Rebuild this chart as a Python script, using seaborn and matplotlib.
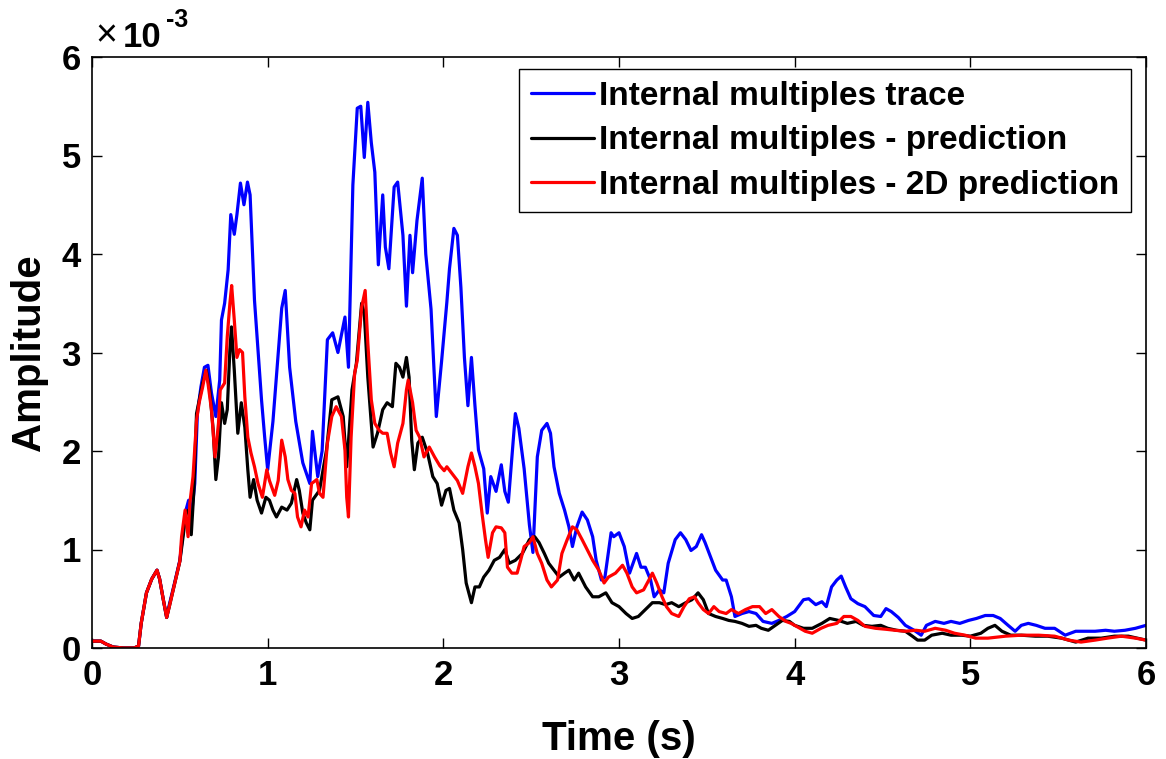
import numpy as np
import pandas as pd
import matplotlib
matplotlib.use("Agg")
import matplotlib.pyplot as plt
import seaborn as sns

# Amplitudes are given in units of 1e-3
trace_t = [0, 0.05, 0.08, 0.12, 0.18, 0.24, 0.265, 0.28, 0.31, 0.34, 0.37, 0.385, 0.405, 0.425, 0.44, 0.47,
           0.5, 0.52, 0.535, 0.55, 0.565, 0.585, 0.60, 0.62, 0.64, 0.66, 0.68, 0.705, 0.727, 0.737, 0.755, 0.775,
           0.79, 0.81, 0.825, 0.845, 0.865, 0.885, 0.90, 0.925, 0.945, 0.965, 0.983, 1.0, 1.03, 1.08, 1.10, 1.125,
           1.16, 1.2, 1.24, 1.255, 1.285, 1.31, 1.34, 1.37, 1.40, 1.44, 1.46, 1.47, 1.485, 1.51, 1.53, 1.55, 1.57,
           1.59, 1.61, 1.63, 1.655, 1.67, 1.69, 1.72, 1.74, 1.77, 1.79, 1.81, 1.825, 1.85, 1.88, 1.90, 1.93, 1.96,
           1.99, 2.02, 2.035, 2.06, 2.08, 2.10, 2.12, 2.14, 2.16, 2.18, 2.20, 2.23, 2.25, 2.27, 2.30, 2.33, 2.35,
           2.37, 2.41, 2.43, 2.46, 2.49, 2.51, 2.535, 2.56, 2.59, 2.61, 2.63, 2.66, 2.69, 2.715, 2.735, 2.76, 2.79,
           2.82, 2.85, 2.87, 2.90, 2.92, 2.955, 2.97, 3.0, 3.03, 3.06, 3.10, 3.125, 3.15, 3.18, 3.20, 3.23, 3.255,
           3.28, 3.32, 3.35, 3.38, 3.41, 3.44, 3.47, 3.49, 3.52, 3.55, 3.59, 3.61, 3.64, 3.66, 3.70, 3.74, 3.78,
           3.82, 3.87, 3.91, 3.955, 4.0, 4.05, 4.08, 4.12, 4.155, 4.18, 4.21, 4.24, 4.265, 4.29, 4.32, 4.36, 4.40,
           4.45, 4.49, 4.52, 4.55, 4.59, 4.63, 4.68, 4.72, 4.75, 4.80, 4.85, 4.89, 4.94, 4.99, 5.035, 5.085, 5.13,
           5.17, 5.215, 5.255, 5.29, 5.33, 5.375, 5.425, 5.48, 5.54, 5.6, 5.65, 5.71, 5.77, 5.82, 5.88, 5.94, 6.0]
trace_amp = [0.07, 0.07, 0.04, 0.01, 0.0, 0.0, 0.02, 0.25, 0.56, 0.70, 0.79, 0.70, 0.50, 0.31, 0.44, 0.66,
             0.89, 1.2, 1.4, 1.5, 1.33, 1.67, 2.38, 2.65, 2.85, 2.87, 2.59, 2.35, 2.72, 3.33, 3.5, 3.84,
             4.4, 4.2, 4.4, 4.72, 4.5, 4.73, 4.6, 3.53, 3.03, 2.52, 2.14, 1.81, 2.3, 3.45, 3.63, 2.85,
             2.3, 1.88, 1.67, 2.2, 1.74, 2.0, 3.13, 3.2, 3.0, 3.36, 2.85, 3.6, 4.7, 5.48, 5.50, 4.98, 5.54,
             5.13, 4.83, 3.89, 4.60, 4.07, 3.85, 4.68, 4.73, 4.19, 3.47, 4.19, 3.81, 4.34, 4.77, 4.0, 3.44, 2.35,
             2.91, 3.51, 3.85, 4.26, 4.19, 3.66, 2.95, 2.46, 2.95, 2.46, 2.01, 1.82, 1.37, 1.74, 1.59, 1.86, 1.59,
             1.48, 2.38, 2.23, 1.82, 1.25, 0.97, 1.94, 2.21, 2.28, 2.18, 1.84, 1.57, 1.40, 1.23, 1.03, 1.23, 1.38,
             1.30, 1.13, 0.89, 0.69, 0.72, 1.17, 1.13, 1.17, 1.03, 0.76, 0.96, 0.82, 0.82, 0.69, 0.52, 0.59, 0.56,
             0.86, 1.10, 1.17, 1.10, 0.99, 1.03, 1.15, 1.07, 0.93, 0.79, 0.69, 0.69, 0.52, 0.32, 0.35, 0.37, 0.35,
             0.27, 0.25, 0.28, 0.32, 0.37, 0.49, 0.50, 0.44, 0.47, 0.42, 0.62, 0.69, 0.73, 0.62, 0.50, 0.45, 0.42,
             0.33, 0.32, 0.40, 0.37, 0.31, 0.23, 0.18, 0.13, 0.23, 0.27, 0.25, 0.27, 0.25, 0.28, 0.30, 0.33, 0.33,
             0.30, 0.23, 0.17, 0.23, 0.25, 0.23, 0.20, 0.20, 0.13, 0.17, 0.17, 0.17, 0.18, 0.17, 0.18, 0.20, 0.23]

pred_t = [0, 0.05, 0.08, 0.12, 0.18, 0.24, 0.265, 0.28, 0.31, 0.34, 0.37, 0.385, 0.405, 0.425, 0.44, 0.47,
          0.5, 0.52, 0.535, 0.55, 0.565, 0.58, 0.595, 0.63, 0.65, 0.67, 0.69, 0.705, 0.72, 0.737, 0.755, 0.77,
          0.785, 0.794, 0.81, 0.83, 0.85, 0.87, 0.887, 0.90, 0.92, 0.94, 0.965, 0.99, 1.01, 1.03, 1.05, 1.08,
          1.11, 1.135, 1.165, 1.18, 1.2, 1.22, 1.24, 1.255, 1.295, 1.335, 1.365, 1.40, 1.43, 1.45, 1.48, 1.505,
          1.535, 1.55, 1.57, 1.60, 1.625, 1.655, 1.68, 1.71, 1.73, 1.75, 1.77, 1.79, 1.805, 1.82, 1.835, 1.855,
          1.88, 1.91, 1.94, 1.965, 1.99, 2.015, 2.035, 2.06, 2.09, 2.11, 2.13, 2.16, 2.18, 2.205, 2.23, 2.26,
          2.29, 2.32, 2.35, 2.375, 2.41, 2.45, 2.49, 2.52, 2.545, 2.575, 2.60, 2.63, 2.66, 2.69, 2.715, 2.745,
          2.77, 2.81, 2.85, 2.885, 2.925, 2.96, 3.0, 3.04, 3.075, 3.11, 3.15, 3.19, 3.23, 3.265, 3.30, 3.34,
          3.38, 3.415, 3.45, 3.48, 3.51, 3.55, 3.59, 3.625, 3.66, 3.70, 3.74, 3.78, 3.81, 3.85, 3.89, 3.93,
          3.97, 4.0, 4.05, 4.10, 4.155, 4.2, 4.25, 4.30, 4.35, 4.39, 4.44, 4.49, 4.53, 4.58, 4.63, 4.67, 4.70,
          4.74, 4.78, 4.84, 4.89, 4.95, 5.0, 5.06, 5.10, 5.14, 5.18, 5.23, 5.29, 5.37, 5.44, 5.52, 5.6, 5.67,
          5.745, 5.82, 5.9, 6.0]
pred_amp = [0.07, 0.07, 0.04, 0.01, 0.0, 0.0, 0.02, 0.25, 0.56, 0.70, 0.79, 0.70, 0.50, 0.31, 0.42, 0.65,
            0.88, 1.15, 1.38, 1.40, 1.15, 1.60, 2.38, 2.69, 2.82, 2.62, 2.21, 1.71, 1.94, 2.49, 2.28, 2.42,
            3.03, 3.26, 2.82, 2.18, 2.49, 2.24, 1.81, 1.53, 1.71, 1.50, 1.37, 1.53, 1.50, 1.40, 1.33, 1.43,
            1.40, 1.47, 1.71, 1.60, 1.37, 1.27, 1.20, 1.50, 1.60, 2.01, 2.52, 2.55, 2.35, 1.84, 2.62, 2.89,
            3.50, 3.40, 2.75, 2.04, 2.18, 2.42, 2.49, 2.45, 2.89, 2.85, 2.75, 2.95, 2.75, 2.11, 1.81, 2.08,
            2.14, 1.98, 1.74, 1.67, 1.45, 1.60, 1.62, 1.40, 1.27, 1.00, 0.66, 0.46, 0.62, 0.62, 0.72, 0.79,
            0.89, 0.92, 1.00, 0.86, 0.89, 0.96, 1.10, 1.13, 1.07, 0.96, 0.86, 0.79, 0.72, 0.76, 0.79, 0.69,
            0.76, 0.62, 0.52, 0.52, 0.56, 0.46, 0.42, 0.35, 0.30, 0.32, 0.39, 0.46, 0.46, 0.44, 0.46, 0.42,
            0.46, 0.49, 0.56, 0.49, 0.35, 0.32, 0.30, 0.28, 0.27, 0.25, 0.22, 0.23, 0.20, 0.18, 0.23, 0.28,
            0.27, 0.23, 0.20, 0.20, 0.25, 0.30, 0.28, 0.25, 0.27, 0.23, 0.22, 0.23, 0.20, 0.18, 0.17, 0.12, 0.08,
            0.08, 0.13, 0.15, 0.13, 0.13, 0.12, 0.15, 0.20, 0.23, 0.17, 0.13, 0.13, 0.12, 0.12, 0.10, 0.06, 0.10,
            0.10, 0.12, 0.12, 0.08]

pred2d_t = [0, 0.05, 0.08, 0.12, 0.18, 0.24, 0.265, 0.28, 0.31, 0.34, 0.37, 0.385, 0.405, 0.425, 0.44, 0.47,
            0.5, 0.51, 0.53, 0.547, 0.557, 0.575, 0.595, 0.61, 0.63, 0.648, 0.66, 0.68, 0.70, 0.72, 0.73, 0.755,
            0.77, 0.785, 0.795, 0.81, 0.825, 0.84, 0.857, 0.87, 0.887, 0.905, 0.925, 0.945, 0.97, 0.995, 1.01,
            1.04, 1.06, 1.08, 1.10, 1.115, 1.135, 1.155, 1.17, 1.19, 1.21, 1.23, 1.25, 1.28, 1.295, 1.315, 1.34,
            1.365, 1.39, 1.42, 1.44, 1.45, 1.46, 1.475, 1.495, 1.51, 1.535, 1.555, 1.57, 1.59, 1.61, 1.635, 1.655,
            1.68, 1.70, 1.72, 1.74, 1.77, 1.79, 1.80, 1.825, 1.845, 1.865, 1.89, 1.92, 1.95, 1.98, 2.005, 2.02,
            2.05, 2.08, 2.11, 2.14, 2.16, 2.18, 2.20, 2.22, 2.24, 2.255, 2.28, 2.30, 2.33, 2.35, 2.365, 2.39,
            2.42, 2.44, 2.46, 2.49, 2.51, 2.535, 2.56, 2.59, 2.615, 2.65, 2.675, 2.705, 2.735, 2.76, 2.79, 2.81,
            2.85, 2.885, 2.915, 2.94, 2.98, 3.02, 3.045, 3.075, 3.10, 3.14, 3.17, 3.19, 3.215, 3.245, 3.27, 3.30,
            3.34, 3.37, 3.40, 3.43, 3.45, 3.48, 3.51, 3.54, 3.57, 3.61, 3.64, 3.68, 3.72, 3.76, 3.80, 3.835, 3.87,
            3.91, 3.95, 3.98, 4.01, 4.06, 4.10, 4.15, 4.19, 4.24, 4.28, 4.32, 4.36, 4.40, 4.46, 4.52, 4.57, 4.63,
            4.69, 4.74, 4.80, 4.86, 4.91, 4.97, 5.03, 5.10, 5.2, 5.29, 5.39, 5.48, 5.56, 5.63, 5.71, 5.78, 5.86,
            5.94, 6.0]
pred2d_amp = [0.07, 0.07, 0.04, 0.01, 0.0, 0.0, 0.02, 0.25, 0.56, 0.70, 0.79, 0.70, 0.50, 0.31, 0.42, 0.65,
              0.88, 1.13, 1.40, 1.13, 1.47, 1.74, 2.31, 2.49, 2.65, 2.82, 2.69, 2.42, 1.94, 2.28, 2.62, 2.69,
              3.16, 3.50, 3.68, 3.33, 2.95, 3.03, 3.00, 2.55, 2.14, 1.98, 1.84, 1.67, 1.53, 1.81, 1.70,
              1.55, 1.70, 2.11, 1.94, 1.71, 1.60, 1.57, 1.33, 1.23, 1.40, 1.33, 1.67, 1.71, 1.57, 1.53, 2.08,
              2.35, 2.45, 2.35, 2.01, 1.53, 1.33, 2.14, 2.79, 2.92, 3.46, 3.63, 3.10, 2.52, 2.28, 2.21, 2.18,
              2.18, 1.98, 1.84, 2.08, 2.28, 2.62, 2.72, 2.49, 2.21, 2.14, 1.94, 2.04, 1.94, 1.85, 1.80, 1.84,
              1.77, 1.70, 1.57, 1.84, 1.98, 1.84, 1.67, 1.37, 1.10, 0.92, 1.17, 1.23, 1.22, 1.17, 0.82, 0.76,
              0.76, 0.89, 1.03, 1.07, 1.13, 0.96, 0.86, 0.69, 0.62, 0.69, 0.96, 1.10, 1.23, 1.20, 1.10, 1.03,
              0.89, 0.79, 0.66, 0.72, 0.76, 0.84, 0.76, 0.62, 0.56, 0.59, 0.69, 0.76, 0.66, 0.52, 0.42, 0.35,
              0.32, 0.42, 0.50, 0.52, 0.46, 0.39, 0.35, 0.42, 0.37, 0.35, 0.39, 0.35, 0.39, 0.42, 0.42, 0.35, 0.39,
              0.32, 0.27, 0.25, 0.22, 0.17, 0.15, 0.20, 0.23, 0.25, 0.32, 0.32, 0.28, 0.22, 0.20, 0.19, 0.18, 0.17,
              0.18, 0.17, 0.20, 0.18, 0.15, 0.13, 0.10, 0.10, 0.12, 0.13, 0.13, 0.12, 0.08, 0.06, 0.08, 0.10, 0.12,
              0.10, 0.08]

series_names = ["Internal multiples trace",
                "Internal multiples - prediction",
                "Internal multiples - 2D prediction"]
series_colors = ["#0000FF", "#000000", "#FF0000"]

x_ticks = [0, 1, 2, 3, 4, 5, 6]
y_ticks = [0, 1, 2, 3, 4, 5, 6]

df = pd.concat([
    pd.DataFrame({"Time (s)": trace_t, "Amplitude": trace_amp, "series": series_names[0]}),
    pd.DataFrame({"Time (s)": pred_t, "Amplitude": pred_amp, "series": series_names[1]}),
    pd.DataFrame({"Time (s)": pred2d_t, "Amplitude": pred2d_amp, "series": series_names[2]}),
], ignore_index=True)

sns.set_theme(style="white")
plt.rcParams["font.family"] = ["Liberation Sans", "DejaVu Sans"]
plt.rcParams["font.weight"] = "bold"
for key in ("text.color", "axes.labelcolor", "xtick.color", "ytick.color"):
    plt.rcParams[key] = "black"

W, H = 1166, 759
fig = plt.figure(figsize=(W / 100, H / 100), dpi=100)
ax = fig.add_axes([92 / W, 1 - 648 / H, (1146 - 92) / W, (648 - 57) / H])

sns.lineplot(data=df, x="Time (s)", y="Amplitude", hue="series",
             hue_order=series_names, palette=series_colors,
             estimator=None, linewidth=2.3, ax=ax)

ax.set_xlim(0, 6)
ax.set_ylim(0, 6)
ax.set_xticks(x_ticks)
ax.set_yticks(y_ticks)
ax.set_xticklabels([str(v) for v in x_ticks], fontsize=25, fontweight="bold", color="black")
ax.set_yticklabels([str(v) for v in y_ticks], fontsize=25, fontweight="bold", color="black")
ax.tick_params(direction="in", length=7, width=1, top=True, right=True,
               bottom=True, left=True, colors="black", pad=8)
for s in ax.spines.values():
    s.set_color("black")
    s.set_linewidth(1.2)

ax.set_xlabel("Time (s)", fontsize=29, fontweight="bold", labelpad=20, color="black")
ax.set_ylabel("Amplitude", fontsize=29, fontweight="bold", labelpad=10, color="black")

leg = ax.legend(loc="upper right", bbox_to_anchor=(0.986, 0.979), fontsize=24,
                frameon=True, fancybox=False, framealpha=1, edgecolor="black",
                handlelength=1.9, handletextpad=0.15, borderpad=0.35,
                labelspacing=0.4, borderaxespad=0)
leg.get_frame().set_linewidth(1.0)
for txt in leg.get_texts():
    txt.set_fontweight("bold")
    txt.set_color("black")

# exponent label above the y axis
fig.text(95 / W, 1 - 46 / H, "\u00d7", fontsize=27, fontweight="normal", ha="left", va="baseline")
fig.text(123 / W, 1 - 47 / H, "10", fontsize=25, fontweight="bold", ha="left", va="baseline")
fig.text(166 / W, 1 - 27 / H, "-3", fontsize=18, fontweight="bold", ha="left", va="baseline")

fig.savefig("out.png", dpi=100, facecolor="white")
